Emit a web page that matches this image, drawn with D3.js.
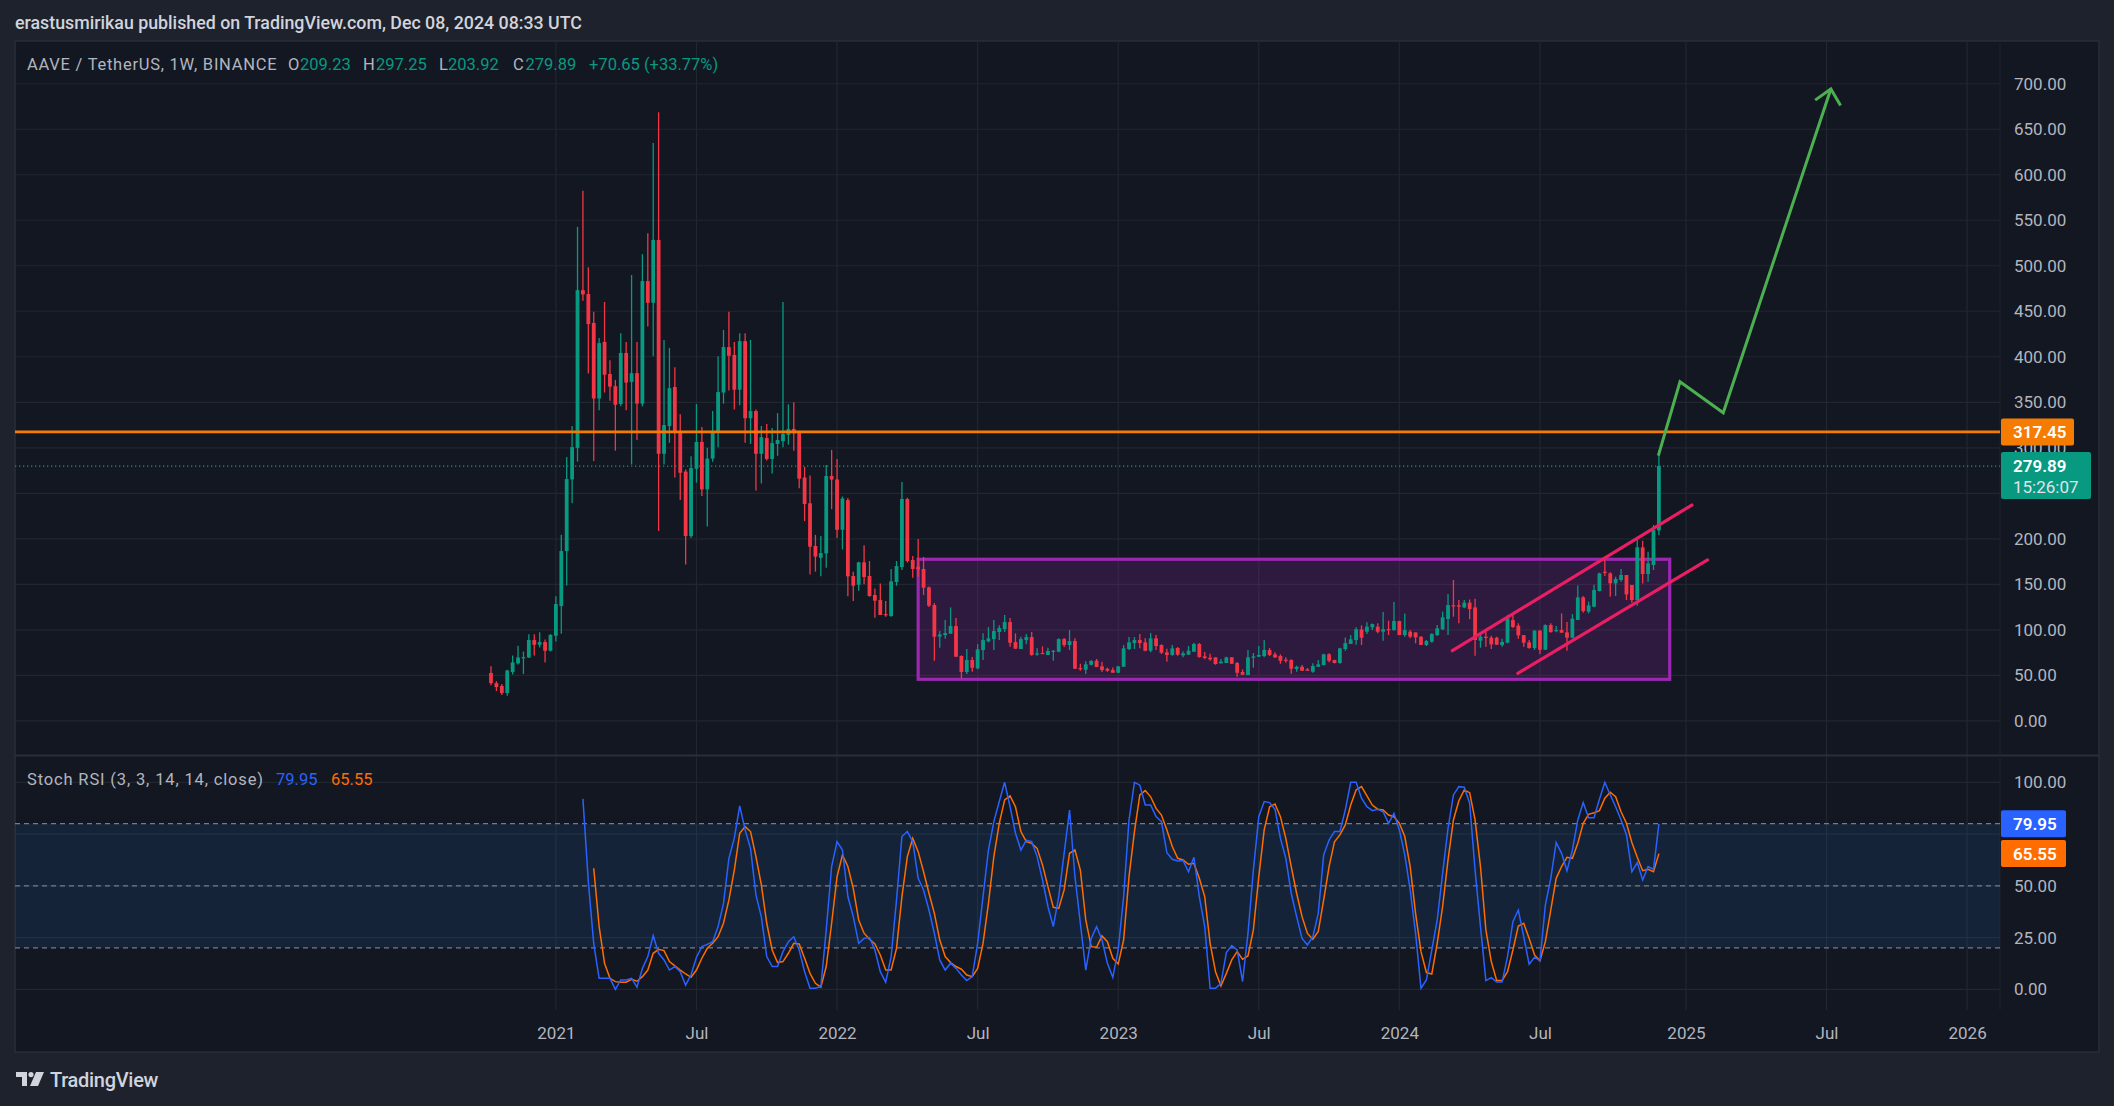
<!DOCTYPE html>
<html>
<head>
<meta charset="utf-8">
<title>AAVE / TetherUS 1W</title>
<script src="https://cdnjs.cloudflare.com/ajax/libs/d3/7.8.5/d3.min.js"></script>
<style>
  html, body { margin: 0; padding: 0; background: #1e222d; }
  svg { display: block; font-family: Roboto, "Noto Sans", sans-serif; }
</style>
</head>
<body>
<svg id="chart" width="2114" height="1106"></svg>
<script>
// weekly candles, first bar = week of 2020-10-12
var firstWeek = "2020-10-12";

var opens = [52.6,41.4,38.3,30.5,53.5,63.1,69.0,69.6,88.7,83.5,
  86.5,77.0,93.5,126.1,186.5,265.2,299.9,473.2,468.9,437.2,
  354.2,416.3,381.1,367.7,348.1,404.2,372.4,382.0,348.5,483.2,
  459.3,528.4,293.4,323.8,366.8,317.3,273.8,203.0,276.9,306.4,
  254.3,288.1,316.8,360.7,410.7,402.0,363.8,417.2,332.5,340.3,
  293.4,310.7,287.7,304.2,307.3,314.2,320.7,317.3,267.3,239.0,
  192.1,179.1,183.9,269.0,265.1,209.9,242.5,
  159.1,149.5,174.1,159.1,138.2,132.7,117.3,115.1,152.5,169.0,
  243.7,176.7,169.3,166.8,146.6,127.2,92.5,94.2,95.7,104.1,
  71.2,53.6,66.8,57.6,77.8,87.3,89.8,97.5,100.8,108.5,
  86.5,78.9,88.7,92.0,73.0,74.5,72.3,76.3,75.9,89.8,
  83.3,87.6,58.0,56.1,61.6,66.0,59.8,57.2,55.8,52.8,
  59.4,78.9,85.4,88.7,86.2,77.0,90.6,83.3,75.2,72.3,
  80.0,71.9,72.6,75.9,84.3,70.8,69.3,69.7,63.1,63.5,
  69.7,63.5,53.6,50.3,69.3,70.4,71.2,77.8,73.0,71.2,
  67.1,66.8,56.9,59.4,56.5,53.9,59.4,61.3,73.0,66.8,
  63.5,78.9,84.4,88.8,100.5,97.9,102.7,103.4,97.9,100.8,
  99.7,109.6,94.2,97.9,97.1,92.4,83.3,86.9,94.2,100.5,
  111.8,126.9,126.9,124.6,129.8,124.6,88.0,92.4,91.3,91.3,
  83.3,85.8,110.7,104.5,94.2,86.2,80.0,99.0,78.1,105.2,
  99.0,99.7,97.2,91.3,110.7,135.6,119.9,125.4,142.6,163.8,
  162.0,151.0,154.7,160.2,149.2,132.7,190.6,161.3,171.2,209.23];

var highs = [60,43.5,40.5,56.1,71.7,82.6,76.1,95.2,95.2,97.4,
  89.2,95.2,136.9,204.3,289.9,323.8,542.8,582.3,498.5,449.4,
  420.7,460.2,396.3,374.6,425.9,416.3,489.8,416.3,512.8,535.8,
  634.9,668.8,418.5,409.8,388.5,336.8,276.0,290.7,348.1,322.9,
  299.9,340.3,400.7,429.4,449.4,416.3,425.9,425.9,418.5,342.0,
  323.8,326.0,321.6,338.1,460.2,347.7,349.9,318.6,279.0,269.5,
  204.3,203.0,281.2,297.7,287.7,246.4,244.7,
  163.8,174.8,193.0,175.6,145.5,151.0,131.6,166.8,175.6,262.4,
  245.0,181.0,199.7,180.0,147.5,129.4,98.6,110.7,124.6,112.9,
  71.9,78.9,70.1,84.3,96.1,103.0,110.7,104.9,116.2,112.9,
  96.1,92.4,95.3,97.5,79.6,81.8,80.3,77.8,90.6,90.9,
  99.7,90.6,62.7,65.3,66.8,67.9,65.0,58.3,58.7,60.2,
  83.3,92.0,92.0,95.3,90.6,96.4,94.2,84.0,79.2,83.3,
  81.0,76.3,82.2,85.8,85.4,75.6,73.7,69.7,67.9,70.4,
  70.1,64.6,56.5,77.8,74.5,82.2,88.7,80.0,75.2,73.0,
  69.7,67.5,60.5,61.3,58.0,63.1,66.8,73.7,74.1,67.1,
  80.3,91.6,94.2,102.7,104.9,108.2,107.0,107.1,119.5,110.0,
  130.5,110.0,118.0,99.7,97.1,92.8,88.8,96.1,105.2,119.9,
  139.3,154.7,132.7,132.7,133.4,134.2,97.1,97.9,93.5,92.4,
  90.2,116.2,116.2,107.1,94.2,88.8,99.7,99.7,106.0,107.1,
  104.1,118.0,108.5,117.3,148.8,137.1,130.9,149.6,162.7,180.3,
  163.1,158.3,166.8,160.2,149.2,199.4,197.9,185.8,215.1,297.25];

var lows = [39.2,32.7,28.3,27.5,50.9,61.8,51.4,69.0,71.7,80.5,
  64.0,76.1,87.0,95.7,148.7,239.0,284.7,461.5,381.6,285.5,
  341.2,360.7,351.6,296.8,345.5,341.2,281.6,308.6,345.5,433.3,
  400.7,208.6,281.6,305.5,267.3,242.5,171.7,200.8,261.6,246.9,
  213.4,284.7,300.7,348.5,362.9,342.0,346.8,305.5,304.2,253.0,
  260.8,286.0,271.6,291.2,300.7,303.4,296.8,255.6,219.5,160.8,
  163.9,158.7,168.2,232.5,200.8,188.2,136.9,
  131.6,143.0,150.0,136.4,113.3,116.2,114.4,114.4,148.4,165.7,
  174.0,157.2,158.3,138.2,125.0,66.0,80.3,90.2,95.7,70.4,
  46.6,51.4,53.9,56.5,66.8,86.2,77.8,88.7,97.5,81.4,
  79.2,78.9,84.0,71.5,71.5,73.4,72.3,66.0,75.2,81.0,
  77.8,57.2,55.0,51.4,60.9,59.1,53.6,53.9,52.8,52.5,
  59.4,77.8,78.9,79.6,76.3,75.2,77.8,73.4,65.0,71.5,
  71.5,69.7,72.6,75.9,69.3,67.5,66.0,61.6,63.1,63.5,
  62.4,48.4,50.6,50.3,58.3,70.4,69.7,71.2,69.0,62.7,
  63.8,51.7,53.9,55.0,55.0,52.8,59.4,60.9,64.2,63.1,
  62.7,77.0,84.4,83.6,83.3,95.3,99.7,96.1,88.0,94.2,
  99.0,94.2,92.4,90.6,85.1,83.3,82.2,85.8,93.1,99.7,
  94.2,114.4,107.1,123.6,111.5,71.5,80.3,81.4,78.9,83.6,
  81.4,85.1,101.9,90.2,81.4,79.2,77.8,73.4,77.8,96.8,
  97.2,96.8,77.0,90.6,110.7,118.8,118.0,124.7,142.2,159.1,
  136.4,137.1,152.9,132.7,129.8,126.5,151.0,152.9,165.7,203.92];

var closes = [41.4,37.0,30.5,55.3,64.2,69.6,70.0,88.7,83.5,86.5,
  77.0,94.4,128.3,186.5,265.6,300.7,473.2,468.5,435.9,354.2,
  415.0,380.3,367.2,347.3,404.2,371.6,382.0,348.5,483.2,459.3,
  528.4,293.4,325.0,365.5,317.3,272.5,203.0,277.7,306.4,254.3,
  288.1,316.8,361.2,410.7,401.1,363.8,417.2,332.5,340.3,293.4,
  311.6,287.7,305.1,308.6,315.1,320.7,315.9,266.0,238.2,191.3,
  180.4,184.3,269.0,265.1,209.9,244.3,158.7,
  148.4,174.1,158.0,137.1,132.0,116.2,116.2,153.2,170.0,243.7,
  175.6,166.8,166.4,146.3,126.5,92.4,94.9,96.4,104.1,70.4,
  53.6,66.8,58.3,78.5,88.7,90.6,98.6,101.9,108.5,85.8,
  79.2,89.8,92.0,72.3,74.1,73.7,76.7,77.0,89.8,83.3,
  87.6,57.2,56.9,62.0,65.7,59.1,55.8,55.0,52.8,59.8,
  79.6,86.2,88.7,85.4,77.0,90.6,82.2,74.8,72.3,79.6,
  72.6,74.1,77.0,84.3,70.1,69.0,67.5,62.4,65.0,69.7,
  62.7,52.8,50.6,69.7,70.8,72.3,77.8,72.3,69.7,66.0,
  66.4,57.2,59.4,55.0,55.0,60.2,62.0,73.0,66.0,63.5,
  79.6,85.4,89.5,100.5,91.3,103.4,106.3,97.9,100.5,100.5,
  109.6,94.2,99.7,92.4,91.7,83.3,87.7,95.3,101.6,113.7,
  127.2,126.5,125.4,129.8,122.8,88.8,92.4,91.7,84.0,83.6,
  86.6,112.6,103.1,93.9,85.8,80.0,99.0,78.1,105.2,97.5,
  99.7,96.8,91.3,112.2,135.6,120.6,126.9,143.7,162.0,163.1,
  151.0,155.8,160.2,138.9,132.7,190.6,161.3,173.0,209.6,279.89];

// Stoch RSI (3, 3, 14, 14, close); K starts at bar 17, D at bar 19
var stochKStart = 17;
var stochK = [92,52,22,5.3,5.3,5.3,0,4.5,4.5,5.3,
  1,10,15.8,26,17.4,14.2,9.3,11,8.5,2,
  7,15.5,20.6,21.7,23,30.3,41.5,63.3,73,88.6,
  77,68,45.6,35,15.8,11,11,18.2,23,25.4,
  19,8.5,0.5,0.5,1.3,28.7,59.3,71.3,67.3,44.8,
  35.1,22.2,24.6,25,19,8.5,3.4,15.8,43.2,73.8,
  76.2,71.3,53.6,48,38.3,27,14.2,9.3,12.6,10.1,
  6.9,4.2,6.1,22.2,44.8,67.3,81,90.7,100,88.2,
  75.4,67.3,72.1,71.3,64.1,52.8,40,30.3,44.8,65.7,
  86.6,54.4,31.9,9.3,24.6,30.3,23.8,12.6,5.8,19,
  44.8,81.8,100,98.6,89,89,83.4,81,66,62.8,
  62,62.2,56.8,63.8,44.8,30.3,0.5,0.5,2.9,17.7,
  21.1,19,3.7,27,57.6,83.4,90.7,90.2,87,72.9,
  63.3,46.4,35.1,24.6,21.4,25.4,36.7,64.9,72.1,76.2,
  76.2,86.6,100,100,92.3,88.2,86.3,87,85.8,80.2,
  85,77,64.9,48,27,0.5,4.5,19,33.5,56,
  77.8,93.9,97.9,97.6,89.9,57.6,30.3,4.2,5.6,3.5,
  3.5,15.8,32.7,38.3,25.4,12.1,15.5,13.8,40.7,53.6,
  70.9,65.7,57.3,67.3,81.8,90.2,82.9,82.9,91.8,100,
  93.9,88.2,81.8,74.6,56.8,61.2,52.8,59.3,58,79.95];

var stochDStart = 19;
var stochD = [58.5,30.3,12.6,5.3,3.7,3.4,3.4,4.8,3.9,6.1,
  9.3,17.4,19.3,18.7,13.4,11.3,9.3,7.4,5.8,9.3,
  15,19.8,22.2,25.4,31.9,43.2,57.6,75.4,78.6,76.2,
  64.1,50.4,31.9,19,12.9,13.4,17.4,22.2,21.9,15,
  7.7,2.9,1,11,31.9,54.4,64.9,59.3,48.8,33.5,
  27.1,24.2,21.9,16.6,9.3,9.3,19.8,44.8,64.1,73,
  66.5,56.8,46.4,36.7,23.8,15.8,12.9,11,9.7,6.9,
  6.1,10.1,22.2,41.5,64.1,80.2,91.5,93.4,88.2,76.2,
  71.3,70.5,68.1,60.1,49.6,39.6,39.1,48,65.7,67.3,
  57.6,33.5,20.6,20.3,25.8,23,15,12.2,23.8,54.4,
  76.2,93.9,96,93,87.4,84.2,77,69,63.3,62.5,
  60.4,60.9,53.6,44.8,22.2,8.5,1.6,7.7,14.2,18.2,
  14.5,16.1,28.7,54.4,77,88.2,89.5,83.4,72.9,59.3,
  46.4,35.1,27,24.2,27.9,43.2,59.3,71.3,74.6,79.4,
  89,96.3,97.9,93.4,89,87,86.6,84.2,83.4,80.2,
  73.8,59.3,36.7,18.2,8.1,7.4,22.2,40,62.5,81.8,
  91.1,96.3,95,81.8,59.3,28.7,13.4,4.2,4.2,8.5,
  19,30.6,31.9,24.6,16.6,13.8,23,38.3,53.6,59.3,
  63.8,63.3,70.5,80.2,84.5,85.3,86.3,92.3,95.2,93,
  85.8,80.2,70.9,63.8,57.3,58,56.8,65.55];

// gridlines at every tick; labels hidden behind the value tags are left out
var priceTicks = [0,50,100,150,200,250,300,350,400,450,500,550,600,650,700];
var priceLabelTicks = [0,50,100,150,200,300,350,400,450,500,550,600,650,700];
var rsiTicks = [0,25,50,75,100];
var rsiLabelTicks = [0,25,50,100];
var rsiBands = [80,50,20];
var timeTicks = ["2021-01-04","2021-07-05","2022-01-03","2022-07-04","2023-01-02","2023-07-03",
  "2024-01-01","2024-07-01","2025-01-06","2025-07-07","2026-01-05"];
var timeLabels = ["2021","Jul","2022","Jul","2023","Jul","2024","Jul","2025","Jul","2026"];

var resistance = 317.45;
var lastClose = 279.89;
var lastK = 79.95, lastD = 65.55;

// drawings: [week index, price]
var rangeBox = { from: 79, to: 218, top: 177.5, bottom: 45.6 };
var channelUpper = [[177.8, 77], [222.1, 237.1]];
var channelLower = [[189.9, 52.2], [225.0, 176.7]];
var projection = [[215.9, 291.3], [219.9, 372.6], [227.9, 338.5], [247.8, 694.2]];
var arrowHead = [[244.9, 682], [247.8, 694.2], [249.6, 676]];

(function(){
    "use strict";

    var svg = d3.select("#chart");
    var parseDay = d3.utcParse("%Y-%m-%d");
    var start = parseDay(firstWeek);
    function weekDate(i) { return new Date(start.getTime() + i * 7 * 864e5); }

    var frame = { left: 15, top: 41, right: 2099, bottom: 1052 };
    var plotRight = 2000;
    var priceBottom = 755, rsiTop = 756, rsiBottom = 1010;

    var x = d3.scaleUtc().domain([start, parseDay("2026-01-05")]).range([491, 1967.1]);
    var y = d3.scaleLinear().domain([0, 700]).range([720.8, 83.75]);
    var yr = d3.scaleLinear().domain([0, 100]).range([989.3, 782.3]);

    var green = "#089981", red = "#f23645", grid = "#22262f", axisText = "#b2b5be";

    // header
    svg.append("text")
        .attr("x", 15).attr("y", 22)
        .attr("dominant-baseline", "central")
        .attr("fill", "#d1d4dc").attr("font-size", 17.8).attr("font-weight", 500)
        .text("erastusmirikau published on TradingView.com, Dec 08, 2024 08:33 UTC");

    svg.append("rect")
        .attr("x", frame.left).attr("y", frame.top)
        .attr("width", frame.right - frame.left).attr("height", frame.bottom - frame.top)
        .attr("fill", "#131722").attr("stroke", "#2a2e39").attr("stroke-width", 1.5);

    var defs = svg.append("defs");
    defs.append("clipPath").attr("id", "clipPrice").append("rect")
        .attr("x", frame.left).attr("y", frame.top)
        .attr("width", plotRight - frame.left).attr("height", priceBottom - frame.top);
    defs.append("clipPath").attr("id", "clipRsi").append("rect")
        .attr("x", frame.left).attr("y", rsiTop)
        .attr("width", plotRight - frame.left).attr("height", rsiBottom - rsiTop);

    var tickDates = timeTicks.map(parseDay);

    // grid
    var gGrid = svg.append("g");
    gGrid.selectAll("line.v").data(tickDates).enter().append("line")
        .attr("x1", function(d) { return x(d); }).attr("x2", function(d) { return x(d); })
        .attr("y1", frame.top).attr("y2", rsiBottom)
        .attr("stroke", grid).attr("stroke-width", 1.2);
    gGrid.selectAll("line.p").data(priceTicks).enter().append("line")
        .attr("x1", frame.left).attr("x2", plotRight)
        .attr("y1", function(d) { return y(d); }).attr("y2", function(d) { return y(d); })
        .attr("stroke", grid).attr("stroke-width", 1.2);
    gGrid.selectAll("line.r").data(rsiTicks).enter().append("line")
        .attr("x1", frame.left).attr("x2", plotRight)
        .attr("y1", function(d) { return yr(d); }).attr("y2", function(d) { return yr(d); })
        .attr("stroke", grid).attr("stroke-width", 1.2);

    // pane borders
    svg.append("line")
        .attr("x1", frame.left).attr("x2", frame.right)
        .attr("y1", priceBottom + 0.5).attr("y2", priceBottom + 0.5)
        .attr("stroke", "#2a2e39").attr("stroke-width", 2);
    svg.append("line")
        .attr("x1", plotRight).attr("x2", plotRight)
        .attr("y1", frame.top).attr("y2", rsiBottom)
        .attr("stroke", "#1f232c").attr("stroke-width", 1);

    // price pane
    var gPrice = svg.append("g").attr("clip-path", "url(#clipPrice)");

    gPrice.append("rect")
        .attr("x", x(weekDate(rangeBox.from))).attr("y", y(rangeBox.top))
        .attr("width", x(weekDate(rangeBox.to)) - x(weekDate(rangeBox.from)))
        .attr("height", y(rangeBox.bottom) - y(rangeBox.top))
        .attr("fill", "rgba(156,39,176,0.2)")
        .attr("stroke", "#9c27b0").attr("stroke-width", 3.2);

    gPrice.append("line")
        .attr("x1", frame.left).attr("x2", plotRight)
        .attr("y1", y(lastClose)).attr("y2", y(lastClose))
        .attr("stroke", green).attr("stroke-width", 1.2).attr("stroke-dasharray", "1.3,2.7");

    var candles = d3.range(closes.length).map(function(i) {
        return { date: weekDate(i), o: opens[i], h: highs[i], l: lows[i], c: closes[i] };
    });

    var gCandle = gPrice.selectAll("g.candle").data(candles).enter().append("g");
    gCandle.append("line")
        .attr("x1", function(d) { return x(d.date); }).attr("x2", function(d) { return x(d.date); })
        .attr("y1", function(d) { return y(d.h); }).attr("y2", function(d) { return y(d.l); })
        .attr("stroke", function(d) { return d.c >= d.o ? green : red; })
        .attr("stroke-width", 1.3);
    gCandle.append("rect")
        .attr("x", function(d) { return x(d.date) - 1.9; })
        .attr("width", 3.8)
        .attr("y", function(d) { return y(Math.max(d.o, d.c)); })
        .attr("height", function(d) { return Math.max(1.2, Math.abs(y(d.o) - y(d.c))); })
        .attr("fill", function(d) { return d.c >= d.o ? green : red; });

    gPrice.append("line")
        .attr("x1", frame.left).attr("x2", plotRight)
        .attr("y1", y(resistance)).attr("y2", y(resistance))
        .attr("stroke", "#f57c00").attr("stroke-width", 2.7);

    var drawLine = d3.line()
        .x(function(d) { return x(weekDate(d[0])); })
        .y(function(d) { return y(d[1]); });

    [channelUpper, channelLower].forEach(function(seg) {
        gPrice.append("path")
            .attr("d", drawLine(seg))
            .attr("fill", "none").attr("stroke", "#e91e63")
            .attr("stroke-width", 3.2).attr("stroke-linecap", "round");
    });

    gPrice.append("path")
        .attr("d", drawLine(projection))
        .attr("fill", "none").attr("stroke", "#4caf50")
        .attr("stroke-width", 3).attr("stroke-linejoin", "miter");
    gPrice.append("path")
        .attr("d", drawLine(arrowHead))
        .attr("fill", "none").attr("stroke", "#4caf50")
        .attr("stroke-width", 3);

    // stoch rsi pane
    var gRsi = svg.append("g").attr("clip-path", "url(#clipRsi)");
    gRsi.append("rect")
        .attr("x", frame.left).attr("y", yr(80))
        .attr("width", plotRight - frame.left).attr("height", yr(20) - yr(80))
        .attr("fill", "rgba(33,150,243,0.1)");
    gRsi.selectAll("line.band").data(rsiBands).enter().append("line")
        .attr("x1", frame.left).attr("x2", plotRight)
        .attr("y1", function(d) { return yr(d); }).attr("y2", function(d) { return yr(d); })
        .attr("stroke", "#787b86").attr("stroke-width", 1.2).attr("stroke-dasharray", "5,4");

    var rsiLine = function(offset) {
        return d3.line()
            .x(function(d, i) { return x(weekDate(i + offset)); })
            .y(function(d) { return yr(d); });
    };
    gRsi.append("path")
        .attr("d", rsiLine(stochDStart)(stochD))
        .attr("fill", "none").attr("stroke", "#ff6d00").attr("stroke-width", 1.5);
    gRsi.append("path")
        .attr("d", rsiLine(stochKStart)(stochK))
        .attr("fill", "none").attr("stroke", "#2962ff").attr("stroke-width", 1.5);

    // axes
    var priceAxis = svg.append("g")
        .attr("transform", "translate(" + plotRight + ",0)")
        .call(d3.axisRight(y).tickValues(priceLabelTicks).tickFormat(d3.format(".2f")).tickSize(0).tickPadding(14));
    var rsiAxis = svg.append("g")
        .attr("transform", "translate(" + plotRight + ",0)")
        .call(d3.axisRight(yr).tickValues(rsiLabelTicks).tickFormat(d3.format(".2f")).tickSize(0).tickPadding(14));
    var timeAxis = svg.append("g")
        .attr("transform", "translate(0," + (1033 - 6) + ")")
        .call(d3.axisBottom(x).tickValues(tickDates)
            .tickFormat(function(d, i) { return timeLabels[i]; }).tickSize(0).tickPadding(0));

    [priceAxis, rsiAxis, timeAxis].forEach(function(a) {
        a.select(".domain").remove();
        a.selectAll("text")
            .attr("fill", axisText)
            .attr("font-size", 17)
            .attr("font-family", "Roboto, 'Noto Sans', sans-serif");
    });
    timeAxis.selectAll("text").attr("dy", "0.71em").attr("y", 0);

    // axis value labels
    function axisTag(yPos, h, w, fill, lines) {
        var g = svg.append("g");
        g.append("rect")
            .attr("x", plotRight + 1).attr("y", yPos).attr("width", w).attr("height", h)
            .attr("rx", 2).attr("fill", fill);
        lines.forEach(function(t, i) {
            g.append("text")
                .attr("x", plotRight + 13).attr("y", yPos + 13.5 + i * 21)
                .attr("dominant-baseline", "central")
                .attr("fill", i === 0 ? "#ffffff" : "#e0e3eb")
                .attr("font-size", 17).attr("font-weight", i === 0 ? 600 : 400)
                .text(t);
        });
    }
    axisTag(y(resistance) - 13.5, 27, 73, "#f57c00", [resistance.toFixed(2)]);
    axisTag(y(lastClose) - 14, 47, 90, green, [lastClose.toFixed(2), "15:26:07"]);
    axisTag(yr(lastK) - 13.5, 27, 65, "#2962ff", [lastK.toFixed(2)]);
    axisTag(yr(lastD) - 13.5, 27, 65, "#ff6d00", [lastD.toFixed(2)]);

    // legends
    var legend = svg.append("text")
        .attr("y", 63.5).attr("dominant-baseline", "central")
        .attr("font-size", 16.5).attr("fill", "#b2b5be");
    [
        ["AAVE / TetherUS, 1W, BINANCE", 27, "#b2b5be", 0.75],
        ["O", 288, "#b2b5be", 0], ["209.23", 300, green, 0],
        ["H", 363, "#b2b5be", 0], ["297.25", 376, green, 0],
        ["L", 439, "#b2b5be", 0], ["203.92", 448, green, 0],
        ["C", 513, "#b2b5be", 0], ["279.89", 525.5, green, 0],
        ["+70.65 (+33.77%)", 589, green, 0]
    ].forEach(function(p) {
        legend.append("tspan").attr("x", p[1]).attr("fill", p[2])
            .attr("letter-spacing", p[3]).text(p[0]);
    });

    var rsiLegend = svg.append("text")
        .attr("y", 779).attr("dominant-baseline", "central")
        .attr("font-size", 16.5);
    [
        ["Stoch RSI (3, 3, 14, 14, close)", 27, "#b2b5be", 0.85],
        ["79.95", 276, "#2962ff", 0],
        ["65.55", 331, "#ff6d00", 0]
    ].forEach(function(p) {
        rsiLegend.append("tspan").attr("x", p[1]).attr("fill", p[2])
            .attr("letter-spacing", p[3]).text(p[0]);
    });

    // TradingView logo
    var logo = svg.append("g").attr("transform", "translate(16,1072)").attr("fill", "#d1d4dc");
    logo.append("path").attr("d", "M0 0 H11 V14 H6 V5 H0 Z");
    logo.append("circle").attr("cx", 15).attr("cy", 2.6).attr("r", 2.6);
    logo.append("path").attr("d", "M20 0 H28 L22 14 H14 Z");
    svg.append("text")
        .attr("x", 50).attr("y", 1080).attr("dominant-baseline", "central")
        .attr("fill", "#d1d4dc").attr("font-size", 20).attr("font-weight", 500)
        .attr("letter-spacing", -0.3)
        .text("TradingView");
})();
</script>
</body>
</html>
